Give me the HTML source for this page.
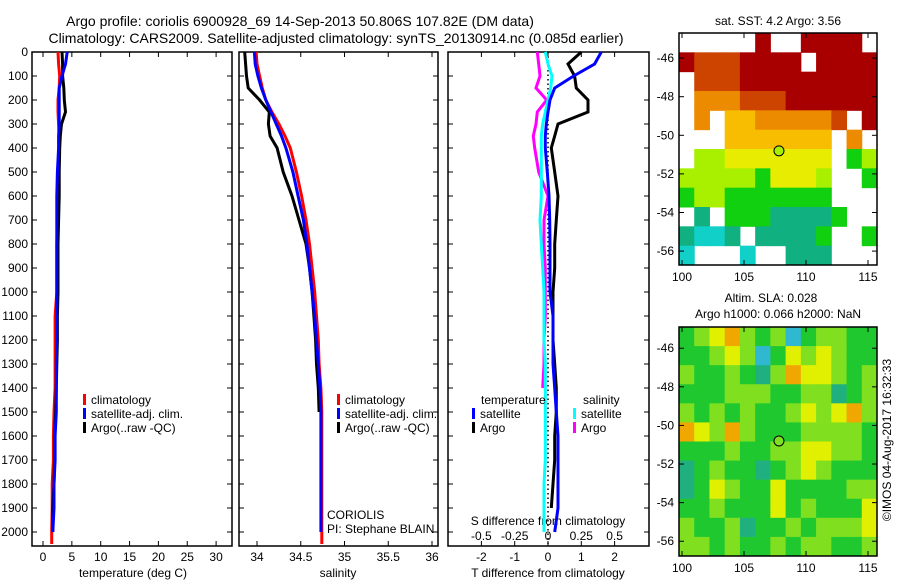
<!DOCTYPE html>
<html><head><meta charset="utf-8"><style>
body{margin:0;background:#fff;}
svg{display:block;font-family:"Liberation Sans",sans-serif;}
</style></head><body>
<svg id="fig" width="900" height="580" viewBox="0 0 900 580">
<text x="300" y="26" font-size="14" text-anchor="middle">Argo profile: coriolis 6900928_69 14-Sep-2013 50.806S 107.82E (DM data)</text>
<text x="336" y="43" font-size="14" text-anchor="middle">Climatology: CARS2009. Satellite-adjusted climatology: synTS_20130914.nc (0.085d earlier)</text>
<text x="778" y="25" font-size="12" text-anchor="middle">sat. SST: 4.2 Argo: 3.56</text>
<text x="771" y="302" font-size="12" text-anchor="middle">Altim. SLA: 0.028</text>
<text x="778" y="318" font-size="12" text-anchor="middle">Argo h1000: 0.066 h2000: NaN</text>
<text x="0" y="0" font-size="12" text-anchor="middle" transform="translate(891,440) rotate(-90)">©IMOS 04-Aug-2017 16:32:33</text>
</svg>
<script>
// ---- profile data ----
const depths = [0,50,100,150,200,250,300,350,400,500,600,700,800,900,1000,1100,1200,1300,1400,1500,1600,1700,1800,1900,2000,2050];
const tempClim = [2.6,2.7,2.9,2.8,2.6,2.6,2.7,2.8,2.8,2.6,2.5,2.5,2.4,2.4,2.4,2.1,2.1,2.1,2.1,1.9,1.8,1.8,1.6,1.6,1.5,1.5];
const tempSat = [4.2,3.9,3.3,2.8,2.8,2.8,2.8,2.7,2.7,2.5,2.4,2.4,2.4,2.4,2.4,2.4,2.4,2.3,2.3,2.3,2.1,2.1,1.9,1.9,1.7,null];
const tempArgo = [3.3,3.4,3.4,3.6,3.7,3.9,3.2,3.0,2.9,2.8,2.8,2.7,2.6,2.6,2.6,2.5,2.5,2.4,2.3,2.2,2.0,2.0,1.9,1.7,1.7,null];
const salClim = [33.99,34.0,34.03,34.06,34.1,34.17,34.25,34.32,34.38,34.45,34.51,34.56,34.6,34.63,34.66,34.68,34.7,34.71,34.73,34.74,34.74,34.74,34.74,34.74,34.74,34.74];
const salSat = [33.97,33.98,34.01,34.05,34.1,34.16,34.22,34.28,34.33,34.41,34.47,34.53,34.57,34.6,34.63,34.66,34.68,34.7,34.72,34.73,34.73,34.73,34.73,34.73,34.73,null];
const salArgo = [33.86,33.87,33.88,33.9,34.03,34.14,34.13,34.15,34.23,34.3,34.4,34.48,34.56,34.6,34.63,34.65,34.67,34.68,34.7,34.71,null,null,null,null,null,null];
const tDiffSat = [1.6,1.4,0.77,0.2,0.06,0,-0.05,-0.08,-0.08,-0.02,0.03,0.05,0.06,0.06,0.06,0.15,0.15,0.15,0.2,0.25,0.3,0.3,0.3,0.3,0.2,null];
const tDiffArgo = [1.0,0.6,0.8,0.85,1.2,1.2,0.3,0.2,0.1,0.2,0.3,0.25,0.2,0.2,0.15,0.15,0.15,0.2,0.25,0.25,0.2,0.2,0.15,0.1,null,null];
const sDiffArgo = [-0.08,-0.07,-0.06,-0.09,-0.01,-0.08,-0.09,-0.11,-0.1,-0.07,0.0,-0.03,-0.03,-0.02,-0.02,-0.02,-0.03,-0.03,-0.04,null,null,null,null,null,null,null];
const sDiffSat = [-0.02,0.0,0.03,0.02,0.0,-0.02,-0.04,-0.05,-0.05,-0.05,-0.05,-0.06,-0.05,-0.04,-0.03,-0.03,-0.03,-0.02,-0.02,-0.02,-0.02,-0.02,-0.03,-0.03,-0.03,null];
const depthTicks = [0,100,200,300,400,500,600,700,800,900,1000,1100,1200,1300,1400,1500,1600,1700,1800,1900,2000];
const tempTicks = [0,5,10,15,20,25,30];
const salTicks = [34,34.5,35,35.5,36];
const tDiffTicks = [-2,-1,0,1,2];
const sDiffTicks = [-0.5,-0.25,0,0.25,0.5];
const sDiffTickLabels = ["-0.5","-0.25","0","0.25","0.5"];
// ---- map data (colour class per ~1deg cell, -1 = missing) ----
const sstGrid = [
[-1,-1,-1,-1,-1,9,-1,-1,9,9,9,9,-1],
[9,8,8,8,9,9,9,9,-1,9,9,9,9],
[-1,8,8,8,9,9,9,9,9,9,9,9,9],
[-1,7,7,7,8,8,8,9,9,9,9,9,9],
[-1,7,-1,6,6,7,7,7,7,7,8,-1,9],
[-1,-1,-1,6,6,6,6,6,6,6,-1,7,-1],
[-1,4,4,5,5,5,5,5,5,5,-1,3,4],
[4,4,4,4,4,3,5,5,5,4,-1,-1,3],
[3,4,4,3,3,3,3,3,3,3,-1,-1,-1],
[-1,2,-1,3,3,3,2,2,2,2,3,-1,-1],
[2,1,1,2,-1,2,2,2,2,3,-1,-1,3],
[1,-1,-1,-1,1,-1,-1,2,2,2,-1,-1,-1]];
const slaGrid = [
[2,3,4,5,3,2,3,0,2,3,3,2,2],
[2,2,3,4,3,0,2,4,3,4,3,2,2],
[3,2,2,3,2,1,3,5,4,4,3,2,3],
[2,2,2,3,3,3,2,2,3,3,1,2,3],
[3,2,3,2,3,2,2,3,4,3,4,5,3],
[5,4,3,5,3,2,2,2,3,3,3,3,2],
[2,2,2,3,2,2,3,3,4,4,3,3,2],
[1,2,3,2,2,1,2,3,4,3,2,2,2],
[1,2,4,3,2,2,4,2,2,2,2,3,3],
[2,2,3,2,2,2,4,2,3,2,2,2,4],
[3,2,2,3,1,2,2,3,2,3,3,3,4],
[3,3,2,3,2,2,3,2,3,3,2,2,3]];
const argoLon = 107.82, argoLat = -50.806;
const lonTicks = [100,105,110,115];
const latTicks = [-46,-48,-50,-52,-54,-56];

const NS='http://www.w3.org/2000/svg';
const svg=document.getElementById('fig');
function el(tag,attrs,parent){const e=document.createElementNS(NS,tag);for(const k in attrs)e.setAttribute(k,attrs[k]);(parent||svg).appendChild(e);return e;}
function txt(x,y,s,size,anchor,parent){const t=el('text',{x:x,y:y,'font-size':size,'text-anchor':anchor||'middle'},parent);t.textContent=s;return t;}

// depth axis
const dTop=52, dPx=0.24;
const yD=d=>dTop+d*dPx;
const panelBottom=546;
const xT=v=>43+v*5.77;
const xS=v=>257+(v-34)*87.5;
const xDT=v=>548+v*33.3;
const xDS=v=>548+v*133.2;

function panel(name,x0,x1){
  const g=el('g',{});
  
  
  el('rect',{x:x0,y:dTop,width:x1-x0,height:panelBottom-dTop,fill:'none',stroke:'#000','stroke-width':1.5},g);
  depthTicks.forEach(d=>{el('line',{x1:x0,x2:x0+5,y1:yD(d),y2:yD(d),stroke:'#000'},g);el('line',{x1:x1,x2:x1-5,y1:yD(d),y2:yD(d),stroke:'#000'},g);});
  return g;
}
function line(g,xs,vals,fx,color,name,w,dash){
  let pts=[];
  vals.forEach((v,i)=>{if(v!==null)pts.push(fx(v).toFixed(1)+','+yD(depths[i]).toFixed(1));});
  const p=el('polyline',{points:pts.join(' '),fill:'none',stroke:color,'stroke-width':w||3,'stroke-linejoin':'miter'},g);
  if(dash)p.setAttribute('stroke-dasharray',dash);
  
  
}
function xticks(g,ticks,fx,labels,y,top){
  ticks.forEach((t,i)=>{
    el('line',{x1:fx(t),x2:fx(t),y1:panelBottom,y2:panelBottom-5,stroke:'#000'},g);
    el('line',{x1:fx(t),x2:fx(t),y1:dTop,y2:dTop+5,stroke:'#000'},g);
    txt(fx(t),y,labels?labels[i]:String(t),12,'middle',g);
  });
}
function legend(g,x,y,items){
  items.forEach((it,i)=>{
    const r=el('rect',{x:x,y:y+i*14-10,width:3,height:11,fill:it[1]},g);
    
    
    const t=txt(x+8,y+i*14,it[0],12,'start',g);
    
    
  });
}

// Panel 1: temperature
const p1=panel('temperature-panel',32,232);
depthTicks.forEach(d=>{const t=txt(28,yD(d)+4,String(d),12,'end',p1);});
xticks(p1,tempTicks,xT,null,561);
txt(133,577,'temperature (deg C)',12,'middle',p1);
line(p1,depths,tempClim,xT,'#f00','temp-climatology-line');
line(p1,depths,tempArgo,xT,'#000','temp-argo-line');
line(p1,depths,tempSat,xT,'#00f','temp-satellite-line');
legend(p1,83,404,[['climatology','#f00'],['satellite-adj. clim.','#00f'],['Argo(..raw -QC)','#000']]);

// Panel 2: salinity
const p2=panel('salinity-panel',239,438);
xticks(p2,salTicks,xS,null,561);
txt(338,577,'salinity',12,'middle',p2);
line(p2,depths,salClim,xS,'#f00','sal-climatology-line');
line(p2,depths,salArgo,xS,'#000','sal-argo-line');
line(p2,depths,salSat,xS,'#00f','sal-satellite-line');
legend(p2,337,404,[['climatology','#f00'],['satellite-adj. clim.','#00f'],['Argo(..raw -QC)','#000']]);
txt(327,519,'CORIOLIS',12,'start',p2);
txt(327,533,'PI: Stephane BLAIN',12,'start',p2);

// Panel 3: differences
const p3=panel('difference-panel',448,649);
xticks(p3,tDiffTicks,xDT,null,561);
txt(548,577,'T difference from climatology',12,'middle',p3);
sDiffTicks.forEach((t,i)=>txt(xDS(t),540,sDiffTickLabels[i],12,'middle',p3));
txt(548,525,'S difference from climatology',12,'middle',p3);
el('line',{x1:548,x2:548,y1:dTop,y2:yD(2050),stroke:'#000','stroke-width':1.5,'stroke-dasharray':'1.5,3'},p3);
line(p3,depths,tDiffArgo,xDT,'#000','tdiff-argo-line');
line(p3,depths,sDiffArgo,xDS,'#f0f','sdiff-argo-line');
line(p3,depths,sDiffSat,xDS,'#0ff','sdiff-satellite-line');
line(p3,depths,tDiffSat,xDT,'#00f','tdiff-satellite-line');
txt(481,404,'temperature',12,'start',p3);
txt(583,404,'salinity',12,'start',p3);
legend(p3,472,418,[['satellite','#00f'],['Argo','#000']]);
legend(p3,573,418,[['satellite','#0ff'],['Argo','#f0f']]);

// Maps
const sstColors={9:'#a80000',8:'#cc4400',7:'#ec8a00',6:'#f8bc00',5:'#e8ec00',4:'#a8f000',3:'#10d010',2:'#10b080',1:'#10d0c8',0:'#0030c0'};
const slaColors={0:'#30b8d0',1:'#20b080',2:'#20c830',3:'#80e020',4:'#e0f000',5:'#f0a800'};
function map(name,grid,colors,top,bottom,latTop){
  const g=el('g',{});
  
  
  const left=679,right=877;
  const xL=lon=>682+(lon-100)*12.4;
  const yL=lat=>top+(latTop-lat)*19.3;
  const rows=grid.length, cols=grid[0].length;
  const cw=(right-left)/cols, ch=(bottom-top)/rows;
  grid.forEach((row,r)=>row.forEach((v,c)=>{
    if(v<0)return;
    const cell=el('rect',{x:(left+c*cw).toFixed(2),y:(top+r*ch).toFixed(2),width:(cw+0.5).toFixed(2),height:(ch+0.5).toFixed(2),fill:colors[v]},g);
    
    
  }));
  el('rect',{x:left,y:top,width:right-left,height:bottom-top,fill:'none',stroke:'#000','stroke-width':1.5},g);
  latTicks.forEach(l=>{const y=yL(l);el('line',{x1:left,x2:left+5,y1:y,y2:y,stroke:'#000'},g);el('line',{x1:right,x2:right-5,y1:y,y2:y,stroke:'#000'},g);txt(left-5,y+4,String(l),12,'end',g);});
  lonTicks.forEach(l=>{const x=xL(l);el('line',{x1:x,x2:x,y1:bottom,y2:bottom-5,stroke:'#000'},g);el('line',{x1:x,x2:x,y1:top,y2:top+5,stroke:'#000'},g);txt(x,bottom+16,String(l),12,'middle',g);});
  const m=el('circle',{cx:xL(argoLon),cy:yL(argoLat),r:5,fill:colors===sstColors?'#a8f000':'#80e020',stroke:'#000','stroke-width':1},g);
  
  
}
map('sst-map',sstGrid,sstColors,33,265,-44.7);
map('sla-map',slaGrid,slaColors,327,556,-44.9);
</script>
</body></html>
